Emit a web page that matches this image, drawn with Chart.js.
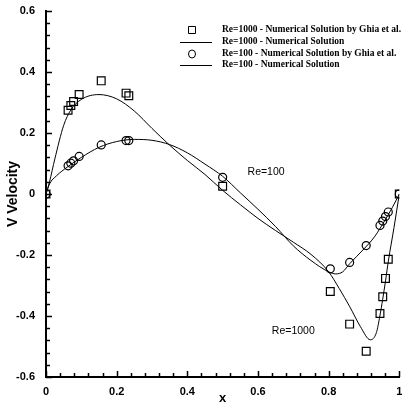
<!DOCTYPE html>
<html>
<head>
<meta charset="utf-8">
<script src="https://cdn.jsdelivr.net/npm/chart.js@4.4.1/dist/chart.umd.min.js"></script>
<style>
  body { margin: 0; background: #fff; }
  #wrap { width: 406px; height: 412px; }
</style>
</head>
<body>
<div id="wrap"><canvas id="grafico" width="406" height="412"></canvas></div>
<script>
// Puntos de referencia de Ghia et al. (linea horizontal por el centro)
var ghiaX = [1.0000, 0.9688, 0.9609, 0.9531, 0.9453, 0.9063, 0.8594, 0.8047, 0.5000,
             0.2344, 0.2266, 0.1563, 0.0938, 0.0781, 0.0703, 0.0625, 0.0000];
var ghiaV1000 = [0.00000, -0.21388, -0.27669, -0.33714, -0.39188, -0.51550, -0.42665, -0.31966, 0.02526,
                 0.32235, 0.33075, 0.37095, 0.32627, 0.30353, 0.29012, 0.27485, 0.00000];
var ghiaV100 = [0.00000, -0.05906, -0.07391, -0.08864, -0.10313, -0.16914, -0.22445, -0.24533, 0.05454,
                0.17527, 0.17507, 0.16077, 0.12317, 0.10890, 0.10091, 0.09233, 0.00000];

// Solucion numerica Re=1000
var numX1000 = [0, 0.01, 0.025, 0.05, 0.07, 0.1, 0.15, 0.2, 0.25, 0.3, 0.35, 0.4, 0.45, 0.5,
                0.55, 0.6, 0.65, 0.7, 0.75, 0.8, 0.83, 0.86, 0.89, 0.918, 0.935, 0.945,
                0.953, 0.961, 0.969, 0.985, 1];
var numV1000 = [0, 0.04, 0.115, 0.225, 0.275, 0.31, 0.326, 0.312, 0.272, 0.215, 0.16, 0.11, 0.064, 0.012,
                -0.035, -0.08, -0.12, -0.158, -0.198, -0.255, -0.31, -0.37, -0.435, -0.478, -0.455, -0.40,
                -0.345, -0.285, -0.22, -0.11, 0];

// Solucion numerica Re=100
var numX100 = [0, 0.01, 0.03, 0.06, 0.1, 0.15, 0.2, 0.25, 0.3, 0.35, 0.4, 0.45, 0.5, 0.55, 0.6,
               0.65, 0.7, 0.75, 0.8, 0.82, 0.84, 0.86, 0.9, 0.93, 0.96, 0.98, 1];
var numV100 = [0, 0.033, 0.06, 0.088, 0.12, 0.153, 0.172, 0.179, 0.176, 0.162, 0.135, 0.098, 0.058,
               0.004, -0.05, -0.107, -0.17, -0.218, -0.255, -0.262, -0.255, -0.228, -0.18, -0.14,
               -0.085, -0.045, 0];

var xTicks = [0, 0.2, 0.4, 0.6, 0.8, 1];
var yTicks = [-0.6, -0.4, -0.2, 0, 0.2, 0.4, 0.6];

var etiquetas = [
  "Re=1000 - Numerical Solution by Ghia et al.",
  "Re=1000 - Numerical Solution",
  "Re=100 - Numerical Solution by Ghia et al.",
  "Re=100 - Numerical Solution"
];
var notas = [
  { texto: "Re=100", x: 0.623, y: 0.072 },
  { texto: "Re=1000", x: 0.70, y: -0.449 }
];

function puntos(xs, ys) {
  return xs.map(function (x, i) { return { x: x, y: ys[i] }; });
}

// ticks hacia adentro, mayores y menores
var marcas = {
  id: "marcas",
  afterDraw: function (chart) {
    var ctx = chart.ctx, a = chart.chartArea;
    var sx = chart.scales.x, sy = chart.scales.y;
    ctx.save();
    ctx.strokeStyle = "#000";
    ctx.lineWidth = 1.5;
    ctx.beginPath();
    for (var i = 0; i <= 25; i++) {
      var v = i * 0.04;
      var px = Math.round(sx.getPixelForValue(v)) + 0.5;
      var largo = (i % 5 === 0) ? 6 : 4;
      ctx.moveTo(px, a.bottom);
      ctx.lineTo(px, a.bottom - largo);
    }
    for (var j = 0; j <= 30; j++) {
      var w = -0.6 + j * 0.04;
      var py = Math.round(sy.getPixelForValue(w)) + 0.5;
      var l2 = (j % 5 === 0) ? 6 : 4;
      ctx.moveTo(a.left, py);
      ctx.lineTo(a.left + l2, py);
    }
    ctx.stroke();

    // leyenda
    var filas = [30, 42, 54, 65];
    ctx.fillStyle = "#000";
    ctx.lineWidth = 1;
    ctx.font = "bold 9.5px 'Liberation Serif', serif";
    ctx.textBaseline = "middle";
    for (var k = 0; k < etiquetas.length; k++) {
      var y = filas[k];
      ctx.fillText(etiquetas[k], 222, y);
      ctx.beginPath();
      if (k === 0) {
        ctx.rect(188.5, y - 3.5, 7, 7);
      } else if (k === 2) {
        ctx.ellipse(192, y, 3.5, 4, 0, 0, Math.PI * 2);
      } else {
        ctx.moveTo(180, y + 0.5);
        ctx.lineTo(212, y + 0.5);
      }
      ctx.stroke();
    }

    // rotulos sobre las curvas
    ctx.font = "10.5px 'Liberation Sans', Arial, sans-serif";
    ctx.textAlign = "center";
    notas.forEach(function (n) {
      ctx.fillText(n.texto, sx.getPixelForValue(n.x), sy.getPixelForValue(n.y));
    });
    ctx.restore();
  }
};

var ctx = document.getElementById("grafico").getContext("2d");
var grafico = new Chart(ctx, {
  type: "scatter",
  data: {
    datasets: [{
      label: etiquetas[0],
      data: puntos(ghiaX, ghiaV1000),
      pointStyle: "rect",
      pointRadius: 5.5,
      pointBorderColor: "#000",
      pointBackgroundColor: "rgba(0,0,0,0)",
      pointBorderWidth: 1.2,
      showLine: false
    }, {
      label: etiquetas[1],
      data: puntos(numX1000, numV1000),
      showLine: true,
      borderColor: "#000",
      borderWidth: 1,
      pointRadius: 0,
      cubicInterpolationMode: "monotone"
    }, {
      label: etiquetas[2],
      data: puntos(ghiaX, ghiaV100),
      pointStyle: "circle",
      pointRadius: 4,
      pointBorderColor: "#000",
      pointBackgroundColor: "rgba(0,0,0,0)",
      pointBorderWidth: 1.2,
      showLine: false
    }, {
      label: etiquetas[3],
      data: puntos(numX100, numV100),
      showLine: true,
      borderColor: "#000",
      borderWidth: 1,
      pointRadius: 0,
      cubicInterpolationMode: "monotone"
    }]
  },
  options: {
    responsive: false,
    animation: false,
    layout: { padding: { top: 11, right: 6, left: 0, bottom: 0 } },
    plugins: { legend: { display: false }, tooltip: { enabled: false } },
    scales: {
      x: {
        type: "linear",
        min: 0, max: 1,
        afterFit: function (s) { s.height = 35; },
        afterBuildTicks: function (s) { s.ticks = xTicks.map(function (v) { return { value: v }; }); },
        grid: { display: false },
        border: { display: true, color: "#000", width: 2 },
        ticks: {
          color: "#000",
          padding: 0,
          font: { family: "'Liberation Sans', Arial, sans-serif", size: 11, weight: "bold" },
          callback: function (v) { return String(parseFloat(v.toFixed(1))); }
        },
        title: {
          display: true, text: "x", color: "#000", padding: { top: 0, bottom: 6 },
          font: { family: "'Liberation Sans', Arial, sans-serif", size: 13, weight: "bold" }
        }
      },
      y: {
        type: "linear",
        min: -0.6, max: 0.6,
        afterFit: function (s) { s.width = 46; },
        afterBuildTicks: function (s) { s.ticks = yTicks.map(function (v) { return { value: v }; }); },
        grid: { display: false },
        border: { display: true, color: "#000", width: 2 },
        ticks: {
          color: "#000",
          padding: 3,
          font: { family: "'Liberation Sans', Arial, sans-serif", size: 11, weight: "bold" },
          callback: function (v) { return String(parseFloat(v.toFixed(1))); }
        },
        title: {
          display: true, text: "V Velocity", color: "#000", padding: { top: 5, bottom: 0 },
          font: { family: "'Liberation Sans', Arial, sans-serif", size: 14, weight: "bold" }
        }
      }
    }
  },
  plugins: [marcas]
});
</script>
</body>
</html>
